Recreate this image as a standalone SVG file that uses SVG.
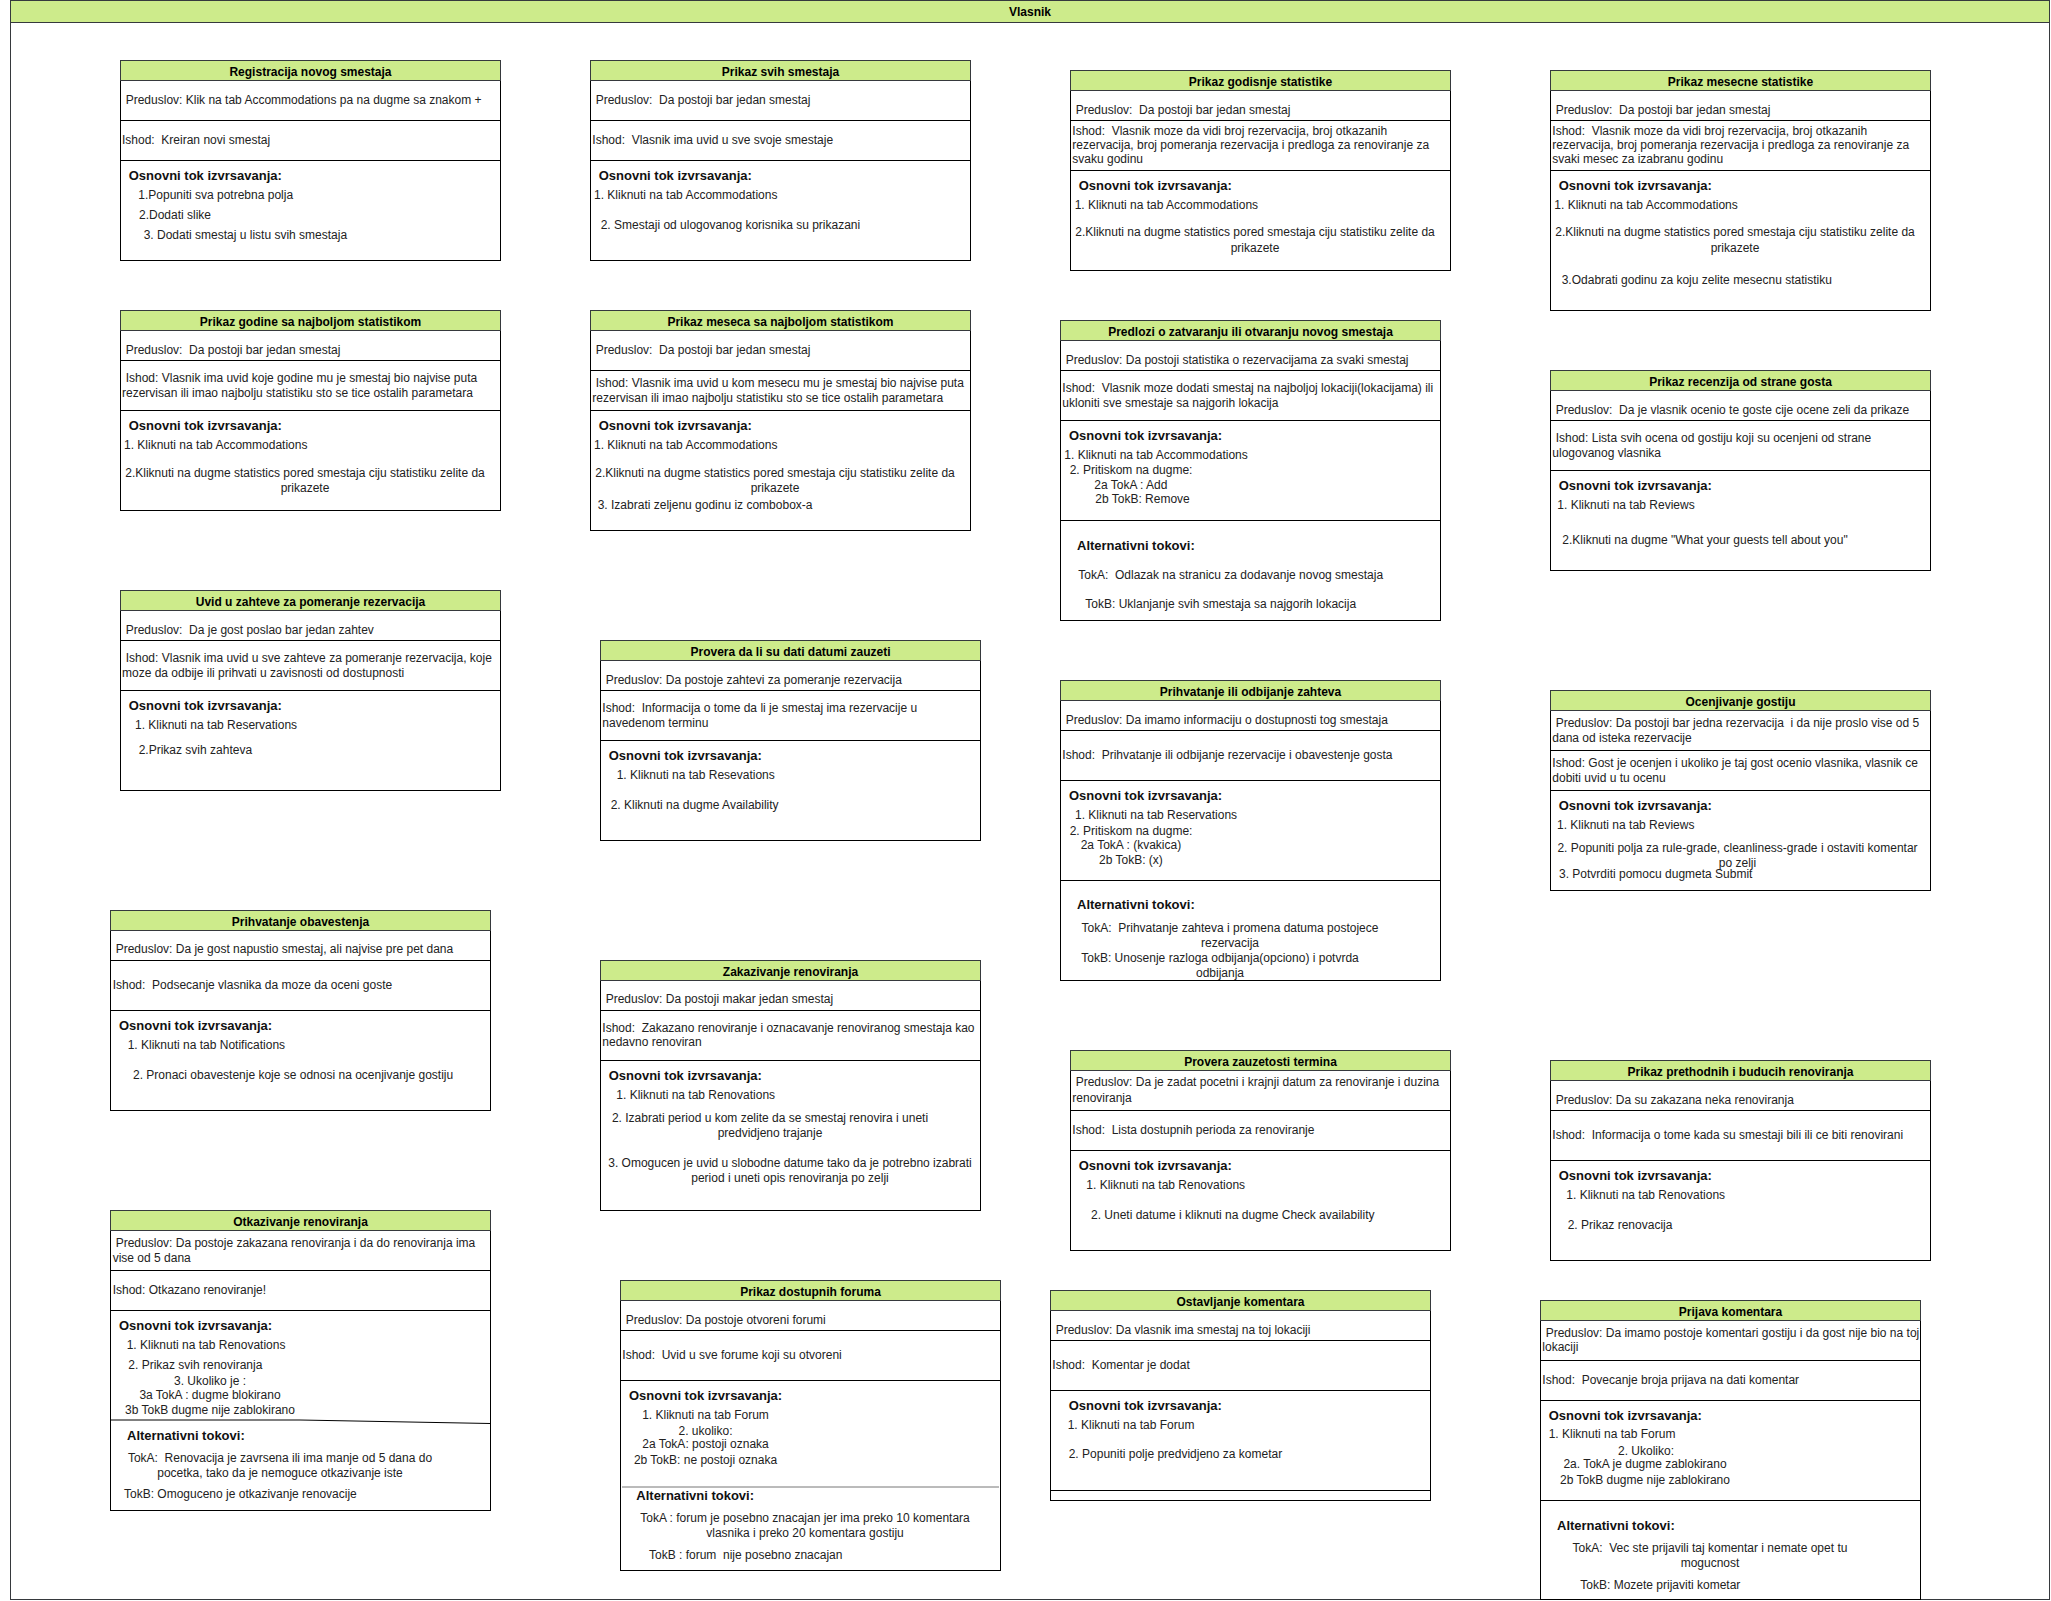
<svg xmlns="http://www.w3.org/2000/svg" width="2051" height="1601" viewBox="0 0 2051 1601" xml:space="preserve">
<style>
text{font-family:"Liberation Sans",Arial,sans-serif;font-size:12px;fill:#222;white-space:pre}
.tt{font-weight:bold;fill:#000;text-anchor:middle}
.h{font-weight:bold;font-size:13px;fill:#111}
.m{text-anchor:middle}
.bx{fill:#fff;stroke:#000;stroke-width:1}
.hd{fill:#cdeb8b;stroke:#36393d;stroke-width:1}
.ln{fill:none;stroke:#000;stroke-width:1}
</style>
<g id="container">
<rect x="10.5" y="0.5" width="2039" height="1599" fill="#fff" stroke="#36393d"/>
<rect x="10.5" y="0.5" width="2039" height="22" class="hd"/>
<text class="tt" x="1030" y="15.5">Vlasnik</text>
</g>
<g id="connectors"/>

<g id="n1">
<rect class="bx" x="120.5" y="60.5" width="380" height="200"/>
<rect class="hd" x="120.5" y="60.5" width="380" height="20"/>
<path class="ln" d="M120.5 120.5H500.5M120.5 160.5H500.5"/>
<text class="tt" x="310.5" y="75.5">Registracija novog smestaja</text>
<text x="125.7" y="104">Preduslov: Klik na tab Accommodations pa na dugme sa znakom +</text>
<text x="122" y="143.5">Ishod:  Kreiran novi smestaj</text>
<text class="h" x="128.7" y="180">Osnovni tok izvrsavanja:</text>
<text x="138.3" y="199">1.Popuniti sva potrebna polja</text>
<text x="139" y="218.5">2.Dodati slike</text>
<text x="143.7" y="238.5">3. Dodati smestaj u listu svih smestaja</text>
</g>

<g id="n2">
<rect class="bx" x="120.5" y="310.5" width="380" height="200"/>
<rect class="hd" x="120.5" y="310.5" width="380" height="20"/>
<path class="ln" d="M120.5 360.5H500.5M120.5 410.5H500.5"/>
<text class="tt" x="310.5" y="325.5">Prikaz godine sa najboljom statistikom</text>
<text x="125.7" y="353.5">Preduslov:  Da postoji bar jedan smestaj</text>
<text x="125.7" y="381.7">Ishod: Vlasnik ima uvid koje godine mu je smestaj bio najvise puta</text>
<text x="122" y="396.6">rezervisan ili imao najbolju statistiku sto se tice ostalih parametara</text>
<text class="h" x="128.7" y="429.8">Osnovni tok izvrsavanja:</text>
<text x="124" y="448.6">1. Kliknuti na tab Accommodations</text>
<text class="m" x="305" y="476.8">2.Kliknuti na dugme statistics pored smestaja ciju statistiku zelite da</text>
<text class="m" x="305" y="491.6">prikazete</text>
</g>

<g id="n3">
<rect class="bx" x="120.5" y="590.5" width="380" height="200"/>
<rect class="hd" x="120.5" y="590.5" width="380" height="20"/>
<path class="ln" d="M120.5 640.5H500.5M120.5 690.5H500.5"/>
<text class="tt" x="310.5" y="605.5">Uvid u zahteve za pomeranje rezervacija</text>
<text x="125.7" y="634">Preduslov:  Da je gost poslao bar jedan zahtev</text>
<text x="125.7" y="661.8">Ishod: Vlasnik ima uvid u sve zahteve za pomeranje rezervacija, koje</text>
<text x="122" y="676.6">moze da odbije ili prihvati u zavisnosti od dostupnosti</text>
<text class="h" x="128.7" y="710">Osnovni tok izvrsavanja:</text>
<text x="135" y="729">1. Kliknuti na tab Reservations</text>
<text x="138.7" y="753.7">2.Prikaz svih zahteva</text>
</g>

<g id="n4">
<rect class="bx" x="110.5" y="910.5" width="380" height="200"/>
<rect class="hd" x="110.5" y="910.5" width="380" height="20"/>
<path class="ln" d="M110.5 960.5H490.5M110.5 1010.5H490.5"/>
<text class="tt" x="300.5" y="925.5">Prihvatanje obavestenja</text>
<text x="115.7" y="953.4">Preduslov: Da je gost napustio smestaj, ali najvise pre pet dana</text>
<text x="112.7" y="988.5">Ishod:  Podsecanje vlasnika da moze da oceni goste</text>
<text class="h" x="119" y="1030.4">Osnovni tok izvrsavanja:</text>
<text x="127.7" y="1048.5">1. Kliknuti na tab Notifications</text>
<text x="133" y="1078.8">2. Pronaci obavestenje koje se odnosi na ocenjivanje gostiju</text>
</g>

<g id="n5">
<rect class="bx" x="110.5" y="1210.5" width="380" height="300"/>
<rect class="hd" x="110.5" y="1210.5" width="380" height="20"/>
<path class="ln" d="M110.5 1270.5H490.5M110.5 1310.5H490.5M110.5 1420H300L490.5 1423.5"/>
<text class="tt" x="300.5" y="1225.5">Otkazivanje renoviranja</text>
<text x="115.7" y="1246.9">Preduslov: Da postoje zakazana renoviranja i da do renoviranja ima</text>
<text x="112.7" y="1261.7">vise od 5 dana</text>
<text x="112.7" y="1293.8">Ishod: Otkazano renoviranje!</text>
<text class="h" x="119" y="1330.2">Osnovni tok izvrsavanja:</text>
<text x="126.7" y="1349">1. Kliknuti na tab Renovations</text>
<text x="128.3" y="1368.7">2. Prikaz svih renoviranja</text>
<text class="m" x="210" y="1384.9">3. Ukoliko je :</text>
<text class="m" x="210" y="1398.7">3a TokA : dugme blokirano</text>
<text class="m" x="210" y="1413.9">3b TokB dugme nije zablokirano</text>
<text class="h" x="127" y="1439.6">Alternativni tokovi:</text>
<text class="m" x="280" y="1461.5">TokA:  Renovacija je zavrsena ili ima manje od 5 dana do</text>
<text class="m" x="280" y="1476.7">pocetka, tako da je nemoguce otkazivanje iste</text>
<text x="124" y="1498.4">TokB: Omoguceno je otkazivanje renovacije</text>
</g>

<g id="n6">
<rect class="bx" x="590.5" y="60.5" width="380" height="200"/>
<rect class="hd" x="590.5" y="60.5" width="380" height="20"/>
<path class="ln" d="M590.5 120.5H970.5M590.5 160.5H970.5"/>
<text class="tt" x="780.5" y="75.5">Prikaz svih smestaja</text>
<text x="595.7" y="104">Preduslov:  Da postoji bar jedan smestaj</text>
<text x="592.3" y="143.5">Ishod:  Vlasnik ima uvid u sve svoje smestaje</text>
<text class="h" x="598.7" y="180">Osnovni tok izvrsavanja:</text>
<text x="594" y="199">1. Kliknuti na tab Accommodations</text>
<text x="600.7" y="228.5">2. Smestaji od ulogovanog korisnika su prikazani</text>
</g>

<g id="n7">
<rect class="bx" x="590.5" y="310.5" width="380" height="220"/>
<rect class="hd" x="590.5" y="310.5" width="380" height="20"/>
<path class="ln" d="M590.5 370.5H970.5M590.5 410.5H970.5"/>
<text class="tt" x="780.5" y="325.5">Prikaz meseca sa najboljom statistikom</text>
<text x="595.7" y="353.5">Preduslov:  Da postoji bar jedan smestaj</text>
<text x="595.7" y="386.6">Ishod: Vlasnik ima uvid u kom mesecu mu je smestaj bio najvise puta</text>
<text x="592.3" y="401.7">rezervisan ili imao najbolju statistiku sto se tice ostalih parametara</text>
<text class="h" x="598.7" y="429.8">Osnovni tok izvrsavanja:</text>
<text x="594" y="448.6">1. Kliknuti na tab Accommodations</text>
<text class="m" x="775" y="476.8">2.Kliknuti na dugme statistics pored smestaja ciju statistiku zelite da</text>
<text class="m" x="775" y="491.6">prikazete</text>
<text x="597.7" y="508.8">3. Izabrati zeljenu godinu iz combobox-a</text>
</g>

<g id="n8">
<rect class="bx" x="600.5" y="640.5" width="380" height="200"/>
<rect class="hd" x="600.5" y="640.5" width="380" height="20"/>
<path class="ln" d="M600.5 690.5H980.5M600.5 740.5H980.5"/>
<text class="tt" x="790.5" y="655.5">Provera da li su dati datumi zauzeti</text>
<text x="605.7" y="683.8">Preduslov: Da postoje zahtevi za pomeranje rezervacija</text>
<text x="602.3" y="711.7">Ishod:  Informacija o tome da li je smestaj ima rezervacije u</text>
<text x="602.3" y="726.5">navedenom terminu</text>
<text class="h" x="608.7" y="760">Osnovni tok izvrsavanja:</text>
<text x="616.7" y="778.8">1. Kliknuti na tab Resevations</text>
<text x="610.7" y="808.8">2. Kliknuti na dugme Availability</text>
</g>

<g id="n9">
<rect class="bx" x="600.5" y="960.5" width="380" height="250"/>
<rect class="hd" x="600.5" y="960.5" width="380" height="20"/>
<path class="ln" d="M600.5 1010.5H980.5M600.5 1060.5H980.5"/>
<text class="tt" x="790.5" y="975.5">Zakazivanje renoviranja</text>
<text x="605.7" y="1003.4">Preduslov: Da postoji makar jedan smestaj</text>
<text x="602.3" y="1031.6">Ishod:  Zakazano renoviranje i oznacavanje renoviranog smestaja kao</text>
<text x="602.3" y="1046.4">nedavno renoviran</text>
<text class="h" x="608.7" y="1080">Osnovni tok izvrsavanja:</text>
<text x="616.3" y="1098.9">1. Kliknuti na tab Renovations</text>
<text class="m" x="770" y="1122">2. Izabrati period u kom zelite da se smestaj renovira i uneti</text>
<text class="m" x="770" y="1136.8">predvidjeno trajanje</text>
<text class="m" x="790" y="1166.8">3. Omogucen je uvid u slobodne datume tako da je potrebno izabrati</text>
<text class="m" x="790" y="1182">period i uneti opis renoviranja po zelji</text>
</g>

<g id="n10">
<rect class="bx" x="620.5" y="1280.5" width="380" height="290"/>
<rect class="hd" x="620.5" y="1280.5" width="380" height="20"/>
<path class="ln" d="M620.5 1330.5H1000.5M620.5 1380.5H1000.5"/>
<path d="M622 1487H999" stroke="#777" stroke-width="1" fill="none"/>
<text class="tt" x="810.5" y="1295.5">Prikaz dostupnih foruma</text>
<text x="625.7" y="1323.5">Preduslov: Da postoje otvoreni forumi</text>
<text x="622.3" y="1358.7">Ishod:  Uvid u sve forume koji su otvoreni</text>
<text class="h" x="629" y="1400">Osnovni tok izvrsavanja:</text>
<text class="m" x="705.5" y="1418.7">1. Kliknuti na tab Forum</text>
<text class="m" x="705.5" y="1434.6">2. ukoliko:</text>
<text class="m" x="705.5" y="1448.4">2a TokA: postoji oznaka</text>
<text class="m" x="705.5" y="1464">2b TokB: ne postoji oznaka</text>
<text class="h" x="636.3" y="1500.3">Alternativni tokovi:</text>
<text class="m" x="805" y="1521.9">TokA : forum je posebno znacajan jer ima preko 10 komentara</text>
<text class="m" x="805" y="1536.7">vlasnika i preko 20 komentara gostiju</text>
<text x="649" y="1558.8">TokB : forum  nije posebno znacajan</text>
</g>

<g id="n11">
<rect class="bx" x="1070.5" y="70.5" width="380" height="200"/>
<rect class="hd" x="1070.5" y="70.5" width="380" height="20"/>
<path class="ln" d="M1070.5 120.5H1450.5M1070.5 170.5H1450.5"/>
<text class="tt" x="1260.5" y="85.5">Prikaz godisnje statistike</text>
<text x="1075.7" y="113.5">Preduslov:  Da postoji bar jedan smestaj</text>
<text x="1072.3" y="134.5">Ishod:  Vlasnik moze da vidi broj rezervacija, broj otkazanih</text>
<text x="1072.3" y="148.6">rezervacija, broj pomeranja rezervacija i predloga za renoviranje za</text>
<text x="1072.3" y="163.4">svaku godinu</text>
<text class="h" x="1078.7" y="190">Osnovni tok izvrsavanja:</text>
<text x="1074.7" y="208.5">1. Kliknuti na tab Accommodations</text>
<text class="m" x="1255" y="236.4">2.Kliknuti na dugme statistics pored smestaja ciju statistiku zelite da</text>
<text class="m" x="1255" y="251.6">prikazete</text>
</g>

<g id="n12">
<rect class="bx" x="1060.5" y="320.5" width="380" height="300"/>
<rect class="hd" x="1060.5" y="320.5" width="380" height="20"/>
<path class="ln" d="M1060.5 370.5H1440.5M1060.5 420.5H1440.5M1060.5 520.5H1440.5"/>
<text class="tt" x="1250.5" y="335.5">Predlozi o zatvaranju ili otvaranju novog smestaja</text>
<text x="1065.7" y="363.9">Preduslov: Da postoji statistika o rezervacijama za svaki smestaj</text>
<text x="1062.3" y="391.7">Ishod:  Vlasnik moze dodati smestaj na najboljoj lokaciji(lokacijama) ili</text>
<text x="1062.3" y="406.5">ukloniti sve smestaje sa najgorih lokacija</text>
<text class="h" x="1069" y="440">Osnovni tok izvrsavanja:</text>
<text x="1064.3" y="458.5">1. Kliknuti na tab Accommodations</text>
<text x="1069.7" y="474.4">2. Pritiskom na dugme:</text>
<text x="1094.3" y="488.5">2a TokA : Add</text>
<text x="1095.3" y="503.3">2b TokB: Remove</text>
<text class="h" x="1077" y="550">Alternativni tokovi:</text>
<text x="1078.3" y="578.8">TokA:  Odlazak na stranicu za dodavanje novog smestaja</text>
<text x="1085.3" y="608.4">TokB: Uklanjanje svih smestaja sa najgorih lokacija</text>
</g>

<g id="n13">
<rect class="bx" x="1060.5" y="680.5" width="380" height="300"/>
<rect class="hd" x="1060.5" y="680.5" width="380" height="20"/>
<path class="ln" d="M1060.5 730.5H1440.5M1060.5 780.5H1440.5M1060.5 880.5H1440.5"/>
<text class="tt" x="1250.5" y="695.5">Prihvatanje ili odbijanje zahteva</text>
<text x="1065.7" y="723.7">Preduslov: Da imamo informaciju o dostupnosti tog smestaja</text>
<text x="1062.3" y="758.9">Ishod:  Prihvatanje ili odbijanje rezervacije i obavestenje gosta</text>
<text class="h" x="1069" y="800">Osnovni tok izvrsavanja:</text>
<text x="1075" y="818.8">1. Kliknuti na tab Reservations</text>
<text x="1069.7" y="834.6">2. Pritiskom na dugme:</text>
<text x="1080.7" y="848.7">2a TokA : (kvakica)</text>
<text x="1099" y="863.9">2b TokB: (x)</text>
<text class="h" x="1077" y="909.2">Alternativni tokovi:</text>
<text class="m" x="1230" y="931.7">TokA:  Prihvatanje zahteva i promena datuma postojece</text>
<text class="m" x="1230" y="946.5">rezervacija</text>
<text class="m" x="1220" y="961.7">TokB: Unosenje razloga odbijanja(opciono) i potvrda</text>
<text class="m" x="1220" y="976.5">odbijanja</text>
</g>

<g id="n14">
<rect class="bx" x="1070.5" y="1050.5" width="380" height="200"/>
<rect class="hd" x="1070.5" y="1050.5" width="380" height="20"/>
<path class="ln" d="M1070.5 1110.5H1450.5M1070.5 1150.5H1450.5"/>
<text class="tt" x="1260.5" y="1065.5">Provera zauzetosti termina</text>
<text x="1075.7" y="1086.4">Preduslov: Da je zadat pocetni i krajnji datum za renoviranje i duzina</text>
<text x="1072.3" y="1101.6">renoviranja</text>
<text x="1072.3" y="1133.7">Ishod:  Lista dostupnih perioda za renoviranje</text>
<text class="h" x="1078.7" y="1169.7">Osnovni tok izvrsavanja:</text>
<text x="1086.3" y="1188.6">1. Kliknuti na tab Renovations</text>
<text x="1091" y="1218.9">2. Uneti datume i kliknuti na dugme Check availability</text>
</g>

<g id="n15">
<rect class="bx" x="1050.5" y="1290.5" width="380" height="210"/>
<rect class="hd" x="1050.5" y="1290.5" width="380" height="20"/>
<path class="ln" d="M1050.5 1340.5H1430.5M1050.5 1390.5H1430.5M1050.5 1490.5H1430.5"/>
<text class="tt" x="1240.5" y="1305.5">Ostavljanje komentara</text>
<text x="1055.7" y="1333.8">Preduslov: Da vlasnik ima smestaj na toj lokaciji</text>
<text x="1052.3" y="1368.7">Ishod:  Komentar je dodat</text>
<text class="h" x="1068.7" y="1409.6">Osnovni tok izvrsavanja:</text>
<text x="1067.7" y="1428.7">1. Kliknuti na tab Forum</text>
<text x="1068.7" y="1458.4">2. Popuniti polje predvidjeno za kometar</text>
</g>

<g id="n16">
<rect class="bx" x="1550.5" y="70.5" width="380" height="240"/>
<rect class="hd" x="1550.5" y="70.5" width="380" height="20"/>
<path class="ln" d="M1550.5 120.5H1930.5M1550.5 170.5H1930.5"/>
<text class="tt" x="1740.5" y="85.5">Prikaz mesecne statistike</text>
<text x="1555.7" y="113.5">Preduslov:  Da postoji bar jedan smestaj</text>
<text x="1552.3" y="134.5">Ishod:  Vlasnik moze da vidi broj rezervacija, broj otkazanih</text>
<text x="1552.3" y="148.6">rezervacija, broj pomeranja rezervacija i predloga za renoviranje za</text>
<text x="1552.3" y="163.4">svaki mesec za izabranu godinu</text>
<text class="h" x="1558.7" y="190">Osnovni tok izvrsavanja:</text>
<text x="1554.3" y="208.5">1. Kliknuti na tab Accommodations</text>
<text class="m" x="1735" y="236.4">2.Kliknuti na dugme statistics pored smestaja ciju statistiku zelite da</text>
<text class="m" x="1735" y="251.6">prikazete</text>
<text x="1561.7" y="283.6">3.Odabrati godinu za koju zelite mesecnu statistiku</text>
</g>

<g id="n17">
<rect class="bx" x="1550.5" y="370.5" width="380" height="200"/>
<rect class="hd" x="1550.5" y="370.5" width="380" height="20"/>
<path class="ln" d="M1550.5 420.5H1930.5M1550.5 470.5H1930.5"/>
<text class="tt" x="1740.5" y="385.5">Prikaz recenzija od strane gosta</text>
<text x="1555.7" y="413.8">Preduslov:  Da je vlasnik ocenio te goste cije ocene zeli da prikaze</text>
<text x="1555.7" y="441.7">Ishod: Lista svih ocena od gostiju koji su ocenjeni od strane</text>
<text x="1552.3" y="456.5">ulogovanog vlasnika</text>
<text class="h" x="1558.7" y="490">Osnovni tok izvrsavanja:</text>
<text x="1557.3" y="508.8">1. Kliknuti na tab Reviews</text>
<text x="1562.3" y="543.6">2.Kliknuti na dugme "What your guests tell about you"</text>
</g>

<g id="n18">
<rect class="bx" x="1550.5" y="690.5" width="380" height="200"/>
<rect class="hd" x="1550.5" y="690.5" width="380" height="20"/>
<path class="ln" d="M1550.5 750.5H1930.5M1550.5 790.5H1930.5"/>
<text class="tt" x="1740.5" y="705.5">Ocenjivanje gostiju</text>
<text x="1555.7" y="726.8">Preduslov: Da postoji bar jedna rezervacija  i da nije proslo vise od 5</text>
<text x="1552.3" y="741.6">dana od isteka rezervacije</text>
<text x="1552.3" y="766.8">Ishod: Gost je ocenjen i ukoliko je taj gost ocenio vlasnika, vlasnik ce</text>
<text x="1552.3" y="781.6">dobiti uvid u tu ocenu</text>
<text class="h" x="1558.7" y="810">Osnovni tok izvrsavanja:</text>
<text x="1557" y="828.8">1. Kliknuti na tab Reviews</text>
<text class="m" x="1737.5" y="851.5">2. Popuniti polja za rule-grade, cleanliness-grade i ostaviti komentar</text>
<text class="m" x="1737.5" y="866.6">po zelji</text>
<text x="1559" y="878.4">3. Potvrditi pomocu dugmeta Submit</text>
</g>

<g id="n19">
<rect class="bx" x="1550.5" y="1060.5" width="380" height="200"/>
<rect class="hd" x="1550.5" y="1060.5" width="380" height="20"/>
<path class="ln" d="M1550.5 1110.5H1930.5M1550.5 1160.5H1930.5"/>
<text class="tt" x="1740.5" y="1075.5">Prikaz prethodnih i buducih renoviranja</text>
<text x="1555.7" y="1103.7">Preduslov: Da su zakazana neka renoviranja</text>
<text x="1552.3" y="1138.5">Ishod:  Informacija o tome kada su smestaji bili ili ce biti renovirani</text>
<text class="h" x="1558.7" y="1180">Osnovni tok izvrsavanja:</text>
<text x="1566.3" y="1198.6">1. Kliknuti na tab Renovations</text>
<text x="1567.7" y="1228.6">2. Prikaz renovacija</text>
</g>

<g id="n20">
<rect class="bx" x="1540.5" y="1300.5" width="380" height="299"/>
<rect class="hd" x="1540.5" y="1300.5" width="380" height="20"/>
<path class="ln" d="M1540.5 1360.5H1920.5M1540.5 1400.5H1920.5M1540.5 1500.5H1920.5"/>
<text class="tt" x="1730.5" y="1315.5">Prijava komentara</text>
<text x="1545.7" y="1336.6">Preduslov: Da imamo postoje komentari gostiju i da gost nije bio na toj</text>
<text x="1542.3" y="1351.4">lokaciji</text>
<text x="1542.3" y="1383.5">Ishod:  Povecanje broja prijava na dati komentar</text>
<text class="h" x="1548.7" y="1420">Osnovni tok izvrsavanja:</text>
<text x="1548.7" y="1438.4">1. Kliknuti na tab Forum</text>
<text class="m" x="1646" y="1454.6">2. Ukoliko:</text>
<text class="m" x="1645" y="1468.4">2a. TokA je dugme zablokirano</text>
<text class="m" x="1645" y="1483.6">2b TokB dugme nije zablokirano</text>
<text class="h" x="1557" y="1529.7">Alternativni tokovi:</text>
<text class="m" x="1710" y="1551.9">TokA:  Vec ste prijavili taj komentar i nemate opet tu</text>
<text class="m" x="1710" y="1566.8">mogucnost</text>
<text x="1580.3" y="1588.5">TokB: Mozete prijaviti kometar</text>
</g>
</svg>
